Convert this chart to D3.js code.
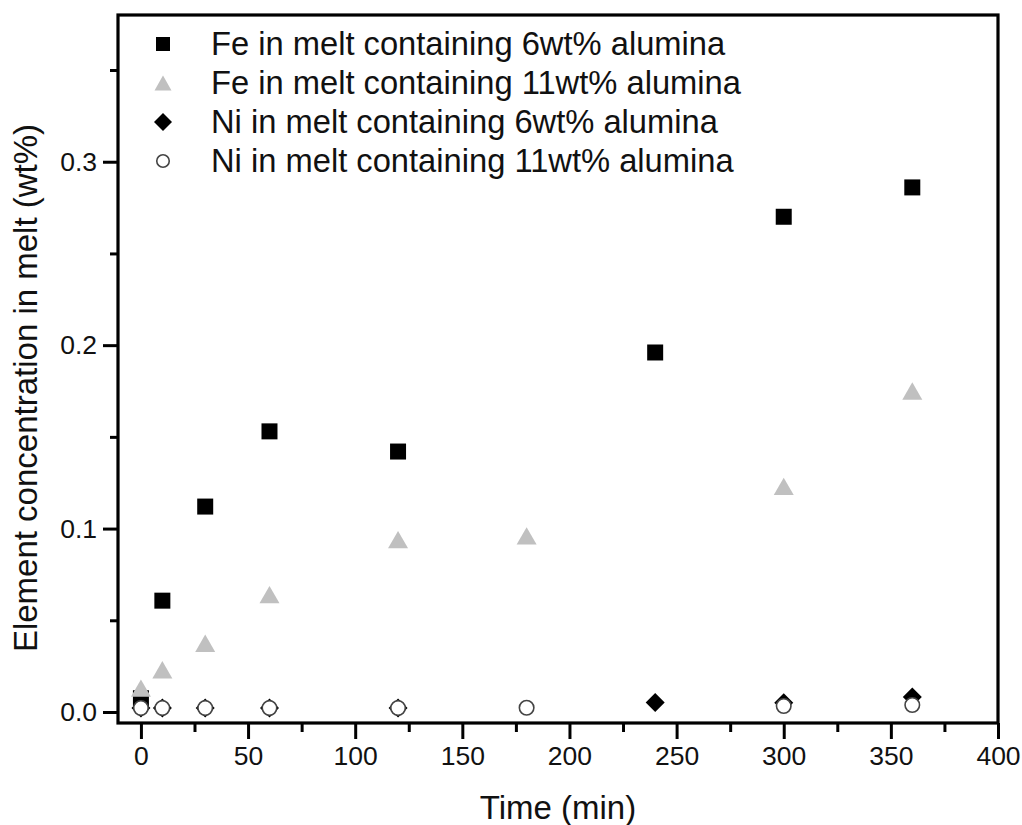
<!DOCTYPE html>
<html>
<head>
<meta charset="utf-8">
<script src="https://cdn.jsdelivr.net/npm/d3@7"></script>
<style>
  html, body { margin: 0; padding: 0; background: #fff; }
  svg { display: block; font-family: "Liberation Sans", Arial, sans-serif; }
</style>
</head>
<body>
<svg id="chart" width="1022" height="825"></svg>
<script>
// ---- data ----
const feTimes6 = [0, 10, 30, 60, 120, 240, 300, 360];
const fe6 = [0.0075, 0.0607, 0.112, 0.153, 0.142, 0.196, 0.270, 0.286];
const feTimes11 = [0, 10, 30, 60, 120, 180, 300, 360];
const fe11 = [0.013, 0.023, 0.0375, 0.064, 0.094, 0.096, 0.123, 0.175];
const niTimes6 = [0, 10, 30, 60, 120, 240, 300, 360];
const ni6 = [0.0022, 0.0022, 0.0022, 0.0022, 0.0022, 0.0052, 0.0050, 0.0082];
const niTimes11 = [0, 10, 30, 60, 120, 180, 300, 360];
const ni11 = [0.0022, 0.0022, 0.0022, 0.0022, 0.0022, 0.0023, 0.0033, 0.0038];
const seriesNames = [
  "Fe in melt containing 6wt% alumina",
  "Fe in melt containing 11wt% alumina",
  "Ni in melt containing 6wt% alumina",
  "Ni in melt containing 11wt% alumina"
];
const xMajorTicks = [0, 50, 100, 150, 200, 250, 300, 350, 400];
const xMinorTicks = [25, 75, 125, 175, 225, 275, 325, 375];
const yMajorTicks = [0.0, 0.1, 0.2, 0.3];
const yMinorTicks = [0.05, 0.15, 0.25, 0.35];
const xTitle = "Time (min)";
const yTitle = "Element concentration in melt (wt%)";

// ---- layout ----
const L = 118, R = 998, T = 15, B = 723;
const svg = d3.select("#chart");
const x = d3.scaleLinear().domain([-10.7, 400]).range([L, R]);
const y = d3.scaleLinear().domain([-0.006, 0.38]).range([B, T]);

// shape generators (relative to a center)
const shapes = {
  square: s => `M${-s/2},${-s/2}h${s}v${s}h${-s}Z`,
  triangle: s => { const w = s, h = s * 0.87; return `M0,${-h/2}L${w/2},${h/2}L${-w/2},${h/2}Z`; },
  diamond: s => `M0,${-s/2}L${s/2},0L0,${s/2}L${-s/2},0Z`,
  circle: s => d3.arc()({innerRadius: 0, outerRadius: s/2, startAngle: 0, endAngle: 2*Math.PI})
};

const series = [
  {name: seriesNames[0], t: feTimes6, v: fe6, shape: "square", size: 16, legSize: 14, fill: "#000", stroke: "none", sw: 0},
  {name: seriesNames[1], t: feTimes11, v: fe11, shape: "triangle", size: 20, legSize: 17, fill: "#c0c0c0", stroke: "none", sw: 0},
  {name: seriesNames[2], t: niTimes6, v: ni6, shape: "diamond", size: 19, legSize: 18, fill: "#000", stroke: "none", sw: 0},
  {name: seriesNames[3], t: niTimes11, v: ni11, shape: "circle", size: 14.5, legSize: 12.5, fill: "#fff", stroke: "#444", sw: 1.6}
];

// ---- axes ----
svg.append("g").attr("transform", `translate(${L},0)`)
  .call(d3.axisLeft(y).tickValues(yMajorTicks).tickSize(15).tickPadding(6).tickFormat(d3.format(".1f")));
svg.append("g").attr("transform", `translate(${L},0)`)
  .call(d3.axisLeft(y).tickValues(yMinorTicks).tickSize(8).tickFormat(""));
svg.append("g").attr("transform", `translate(0,${B})`)
  .call(d3.axisBottom(x).tickValues(xMajorTicks).tickSize(16).tickPadding(7).tickFormat(d3.format("d")));
svg.append("g").attr("transform", `translate(0,${B})`)
  .call(d3.axisBottom(x).tickValues(xMinorTicks).tickSize(9).tickFormat(""));
svg.selectAll(".domain").remove();
svg.selectAll(".tick line").attr("stroke", "#000").attr("stroke-width", 3);
svg.selectAll(".tick text").attr("font-size", 26.5).attr("fill", "#111")
  .attr("font-family", "'Liberation Sans', Arial, sans-serif");

// frame
svg.append("rect").attr("x", L).attr("y", T).attr("width", R - L).attr("height", B - T)
  .attr("fill", "none").attr("stroke", "#000").attr("stroke-width", 3.2);

// ---- points ----
series.forEach(s => {
  svg.append("g").selectAll("path").data(s.t.map((t, i) => [t, s.v[i]])).join("path")
    .attr("d", shapes[s.shape](s.size))
    .attr("transform", d => `translate(${x(d[0])},${y(d[1])})`)
    .attr("fill", s.fill).attr("stroke", s.stroke).attr("stroke-width", s.sw);
});

// ---- legend ----
const leg = svg.append("g");
series.forEach((s, i) => {
  const cy = 44 + i * 39;
  leg.append("path").attr("d", shapes[s.shape](s.legSize))
    .attr("transform", `translate(163,${cy})`)
    .attr("fill", s.fill).attr("stroke", s.stroke).attr("stroke-width", s.sw);
  leg.append("text").attr("x", 211).attr("y", cy + 11).attr("font-size", 32.7).attr("fill", "#111").text(s.name);
});

// ---- titles ----
svg.append("text").attr("x", (L + R) / 2).attr("y", 819).attr("text-anchor", "middle")
  .attr("font-size", 33).attr("fill", "#111").text(xTitle);
svg.append("text").attr("transform", `translate(37,388) rotate(-90)`).attr("text-anchor", "middle")
  .attr("font-size", 33).attr("fill", "#111").text(yTitle);
</script>
</body>
</html>
